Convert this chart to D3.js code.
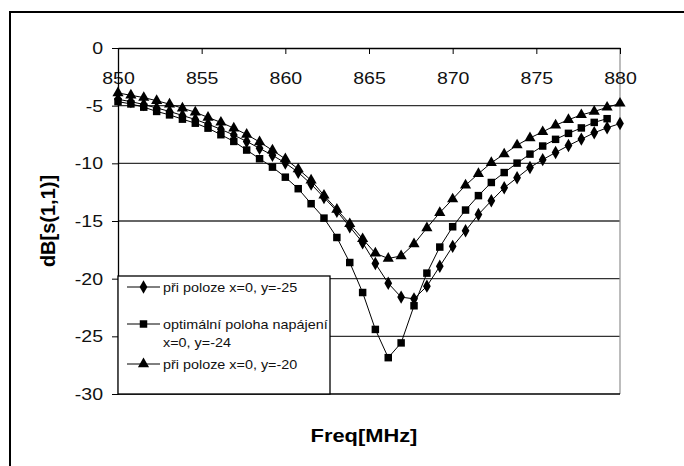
<!DOCTYPE html>
<html><head><meta charset="utf-8">
<script src="https://cdn.jsdelivr.net/npm/d3@7"></script>
<style>body{margin:0;background:#fff;} svg{display:block;font-family:Arial,"Liberation Sans",sans-serif;}</style>
</head><body><svg id="c" width="684" height="466"></svg>
<script>
const freq = [850, 850.77, 851.54, 852.31, 853.08, 853.85, 854.62, 855.38, 856.15, 856.92,
  857.69, 858.46, 859.23, 860, 860.77, 861.54, 862.31, 863.08, 863.85, 864.62,
  865.38, 866.15, 866.92, 867.69, 868.46, 869.23, 870, 870.77, 871.54, 872.31,
  873.08, 873.85, 874.62, 875.38, 876.15, 876.92, 877.69, 878.46, 879.23, 880];
const dbY25 = [-4.45, -4.65, -4.9, -5.2, -5.5, -5.85, -6.2, -6.6, -7.05, -7.55,
  -8.1, -8.7, -9.3, -9.97, -10.78, -11.8, -12.96, -14.15, -15.5, -16.88,
  -18.68, -20.4, -21.6, -21.75, -20.65, -18.93, -17.2, -15.85, -14.43, -13.25,
  -12.12, -11.25, -10.36, -9.68, -9.06, -8.46, -7.9, -7.35, -6.92, -6.55];
const dbOpt = [-4.65, -4.85, -5.13, -5.5, -5.8, -6.17, -6.52, -6.95, -7.52, -8.1,
  -8.85, -9.6, -10.33, -11.2, -12.2, -13.5, -14.75, -16.43, -18.6, -21.2,
  -24.4, -26.85, -25.57, -22.35, -19.52, -17.26, -15.5, -14.05, -12.8, -11.66,
  -10.8, -9.98, -9.2, -8.5, -7.92, -7.4, -6.93, -6.45, -6.13];
const dbY20 = [-3.9, -4.1, -4.3, -4.57, -4.87, -5.22, -5.57, -6.02, -6.45, -6.95,
  -7.5, -8.15, -8.87, -9.62, -10.5, -11.47, -12.78, -14.0, -15.25, -16.55,
  -17.8, -18.25, -18.03, -17.0, -15.6, -14.28, -13.1, -11.9, -10.9, -9.95,
  -9.2, -8.42, -7.8, -7.27, -6.7, -6.22, -5.8, -5.5, -5.15, -4.8];
const xTicks = [850, 855, 860, 865, 870, 875, 880];
const yTicks = [0, -5, -10, -15, -20, -25, -30];
const gridValues = [-5, -10, -15, -20, -25];
const legendLines = [["při poloze x=0, y=-25"], ["optimální poloha napájení", "x=0, y=-24"], ["při poloze x=0, y=-20"]];
const xTitle = "Freq[MHz]";
const yTitle = "dB[s(1,1)]";

const SX = 1.15;
const svg = d3.select('#c');
svg.append('rect').attr('width', 684).attr('height', 466).attr('fill', '#fff');
svg.append('rect').attr('x', 10).attr('y', 12).attr('width', 720).attr('height', 520)
  .attr('fill', 'none').attr('stroke', '#000').attr('stroke-width', 2);

const x = d3.scaleLinear().domain([850, 880]).range([118, 620]);
const y = d3.scaleLinear().domain([0, -30]).range([48, 394]);

// gridlines
svg.append('g').selectAll('line').data(gridValues).join('line')
  .attr('x1', x(850)).attr('x2', x(880)).attr('y1', d => y(d)).attr('y2', d => y(d))
  .attr('stroke', '#333').attr('stroke-width', 1.3);
// right border & bottom
svg.append('line').attr('x1', x(880)).attr('x2', x(880)).attr('y1', y(0)).attr('y2', y(-30))
  .attr('stroke', '#999').attr('stroke-width', 1.3);
svg.append('line').attr('x1', x(850)).attr('x2', x(880)).attr('y1', y(-30)).attr('y2', y(-30))
  .attr('stroke', '#000').attr('stroke-width', 1.3);

// x axis at 0 (top)
const gx = svg.append('g').attr('transform', `translate(0,${y(0)})`)
  .call(d3.axisBottom(x).tickValues(xTicks).tickFormat(d3.format('d')).tickSizeInner(6).tickSizeOuter(0).tickPadding(18));
gx.select('.domain').attr('stroke', '#000').attr('stroke-width', 1.3);
gx.selectAll('.tick line').attr('stroke', '#000');
gx.selectAll('.tick text').attr('font-size', 17).attr('fill', '#111').attr('font-family', 'Arial, Liberation Sans, sans-serif')
  .attr('transform', `scale(${SX},1)`);

// y axis
const gy = svg.append('g').attr('transform', `translate(${x(850)},0)`)
  .call(d3.axisLeft(y).tickValues(yTicks).tickFormat(d3.format('d')).tickSizeInner(6).tickSizeOuter(0).tickPadding(7));
gy.select('.domain').attr('stroke', '#000').attr('stroke-width', 1.3);
gy.selectAll('.tick line').attr('stroke', '#000');
gy.selectAll('.tick text').attr('font-size', 17).attr('fill', '#111').attr('font-family', 'Arial, Liberation Sans, sans-serif')
  .attr('transform', `scale(${SX},1)`);
gy.selectAll('.tick text').text(d => d < 0 ? '-' + Math.abs(d) : d);

// titles
svg.append('text').attr('transform', `translate(${(x(850) + x(880)) / 2 - 5},442) scale(${SX},1)`)
  .attr('text-anchor', 'middle').attr('font-size', 19).attr('font-weight', 'bold').text(xTitle);
svg.append('text').attr('transform', `translate(55,${(y(0) + y(-30)) / 2}) rotate(-90)`)
  .attr('text-anchor', 'middle').attr('font-size', 20).attr('font-weight', 'bold').text(yTitle);

// series
const symbols = [d3.symbolDiamond, d3.symbolSquare, d3.symbolTriangle];
const symSizes = [52, 56, 54];
const seriesData = [dbY25, dbOpt, dbY20];
const line = d3.line().x(d => x(d[0])).y(d => y(d[1]));
seriesData.forEach((vals, k) => {
  const pts = vals.map((v, i) => [freq[i], v]);
  svg.append('path').datum(pts).attr('d', line).attr('fill', 'none').attr('stroke', '#000').attr('stroke-width', 1);
  svg.append('g').selectAll('path').data(pts).join('path')
    .attr('transform', d => `translate(${x(d[0])},${y(d[1])})`)
    .attr('d', d3.symbol(symbols[k], symSizes[k])).attr('fill', '#000');
});

// legend
const lg = svg.append('g');
lg.append('rect').attr('x', x(850)).attr('y', 276).attr('width', 212).attr('height', y(-30) - 276)
  .attr('fill', '#fff').attr('stroke', '#000').attr('stroke-width', 1.3);
const legY = [287, 324, 364];
legendLines.forEach((lines, k) => {
  const cy = legY[k];
  lg.append('line').attr('x1', 127).attr('x2', 160).attr('y1', cy).attr('y2', cy).attr('stroke', '#000');
  lg.append('path').attr('transform', `translate(143.5,${cy})`).attr('d', d3.symbol(symbols[k], symSizes[k])).attr('fill', '#000');
  lines.forEach((t, j) => {
    lg.append('text').attr('transform', `translate(163,${cy + 4.5 + j * 18}) scale(${SX},1)`)
      .attr('font-size', 12.5).attr('fill', '#111').text(t);
  });
});
</script></body></html>
